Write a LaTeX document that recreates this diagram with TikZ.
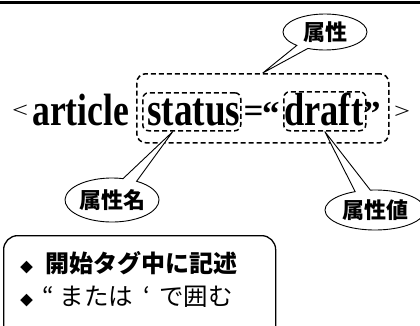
\documentclass[tikz,border=0pt]{standalone}
\usepackage{fontspec}
\setmainfont{Liberation Serif}
\newfontfamily\jp{Noto Sans CJK JP}
\usetikzlibrary{shapes.callouts,shapes.geometric,calc}
\newcommand{\bigw}[2]{\scalebox{1}[1.27]{\resizebox{#1}{!}{#2}}}
\begin{document}
\begin{tikzpicture}[x=1pt,y=-1pt,
  dashbox/.style={draw, dash pattern=on 5pt off 3pt, line width=1.5pt, rectangle, inner sep=0pt, anchor=north west},
  call/.style={ellipse callout, draw, fill=white, line width=0.9pt, inner sep=0pt, callout pointer arc=18,
    font=\jp\bfseries\fontsize{22}{22}\selectfont},
  big/.style={anchor=base west, inner sep=0pt, font=\fontsize{35}{35}\selectfont\bfseries},
  ang/.style={anchor=base west, inner sep=0pt, font=\fontsize{25}{25}\selectfont},
  line/.style={anchor=west, inner sep=0pt, font=\jp\fontsize{24}{24}\selectfont}]
\useasboundingbox (0,0) rectangle (420,325);
\draw[line width=3.5pt] (0,2.5) -- (420,2.5);
% main text
\node[ang] (lt) at (12,117.5) {\resizebox{16pt}{12.5pt}{<}};
\node[big] (ar) at (32,125) {\bigw{97pt}{article}};
\node[big] (st) at (147,125) {\bigw{93pt}{status}};
\node[big] (eq) at (243.5,122) {=};
\node[big] (oq) at (262,125) {“};
\node[big] (dr) at (284,125) {\bigw{79pt}{draft}};
\node[big] (cq) at (363,125) {”};
\node[ang] (gt) at (394,118) {\resizebox{16pt}{12.5pt}{>}};
% dashed boxes
\node[dashbox, rounded corners=9pt, minimum width=252pt, minimum height=69pt] (outer) at (136,73) {};
\node[dashbox, rounded corners=6pt, minimum width=98pt, minimum height=38pt] (sbx) at (142,92) {};
\node[dashbox, rounded corners=6pt, minimum width=82pt, minimum height=39pt] (dbx) at (283,91) {};
% callouts
\coordinate (pa) at (outer.north);
\coordinate (pn) at ($(sbx.south west)!0.31!(sbx.south east)$);
\coordinate (pv) at (dbx.south);
\node[call, minimum width=84pt, minimum height=36pt, callout absolute pointer=(pa)] (ca) at (325,32) {属性};
\node[call, minimum width=94pt, minimum height=44pt, callout absolute pointer=(pn)] (cn) at (112,200) {属性名};
\node[call, minimum width=100pt, minimum height=40pt, callout absolute pointer=(pv)] (cv) at (375,210) {属性値};
% note box
\node[draw, line width=1.3pt, rounded corners=14pt, minimum width=272pt, minimum height=110pt, anchor=north west, inner sep=0pt] (note) at (3,235) {};
\node[line] (l1) at (20,263) {{\fontsize{13}{13}\selectfont ◆}\hspace{12pt}\bfseries 開始タグ中に記述};
\node[line, font=\jp\fontsize{24.5}{24.5}\selectfont] (l2) at (20,297) {{\fontsize{13}{13}\selectfont ◆}\hspace{9pt}“\hspace{6pt}または\hspace{10pt}‘\hspace{9pt}で囲む};
\end{tikzpicture}
\end{document}
